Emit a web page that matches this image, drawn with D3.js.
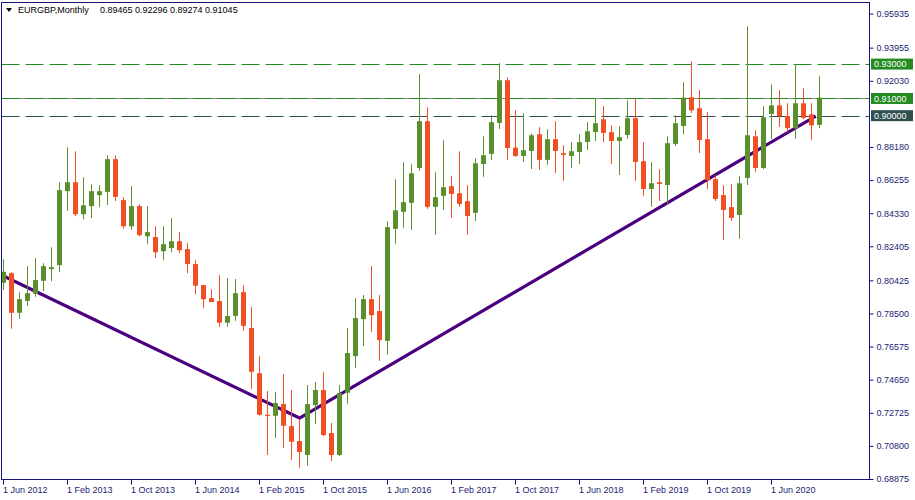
<!DOCTYPE html>
<html>
<head>
<meta charset="utf-8">
<script src="https://cdn.jsdelivr.net/npm/d3@7"></script>
<style>
  html, body { margin: 0; padding: 0; background: #fff; }
  svg { display: block; font-family: "Liberation Sans", Arial, sans-serif; }
</style>
</head>
<body>
<svg id="chart" width="915" height="500"></svg>
<script>
// ---- Data (EURGBP, Monthly) ----
const symbolTitle = "EURGBP,Monthly";
const lastQuote = ["0.89465", "0.92296", "0.89274", "0.91045"];
const firstMonth = "2012-06";
const lastMonth = "2020-12";

const openVals = [0.8028,0.8084,0.7854,0.7923,0.7964,0.8040,0.8108,0.8131,0.8561,0.8613,
  0.8427,0.8474,0.8538,0.8557,0.8747,0.8509,0.8357,0.8474,0.8299,0.8294,
  0.8212,0.8230,0.8270,0.8224,0.8137,0.8015,0.7939,0.7922,0.7796,0.7836,
  0.7974,0.7765,0.7503,0.7261,0.7255,0.7323,0.7195,0.7108,0.7027,0.7317,
  0.7405,0.7155,0.7027,0.7389,0.7602,0.7817,0.7933,0.7864,0.7691,0.8342,
  0.8441,0.8493,0.8696,0.8968,0.8470,0.8534,0.8590,0.8549,0.8503,0.8435,
  0.8719,0.8778,0.8958,0.9206,0.8814,0.8766,0.8795,0.8892,0.8743,0.8863,
  0.8782,0.8766,0.8789,0.8847,0.8905,0.8979,0.8904,0.8853,0.8888,0.8985,
  0.8735,0.8574,0.8613,0.8597,0.8836,0.8940,0.9107,0.9043,0.8863,0.8631,
  0.8538,0.8468,0.8423,0.8638,0.8880,0.8696,0.9010,0.9060,0.8998,0.8927,
  0.9072,0.9008,0.89465];
const highVals = [0.8166,0.8090,0.7974,0.8125,0.8172,0.8142,0.8235,0.8613,0.8816,0.8793,
  0.8642,0.8601,0.8596,0.8770,0.8770,0.8526,0.8590,0.8485,0.8474,0.8357,
  0.8357,0.8404,0.8323,0.8259,0.8160,0.8015,0.7991,0.8073,0.8055,0.8050,
  0.8015,0.7887,0.7602,0.7399,0.7393,0.7498,0.7405,0.7230,0.7434,0.7451,
  0.7509,0.7213,0.7434,0.7765,0.7939,0.7957,0.8125,0.7957,0.8386,0.8631,
  0.8729,0.8718,0.9241,0.9049,0.8671,0.8857,0.8648,0.8793,0.8596,0.8752,
  0.8880,0.9002,0.9305,0.9223,0.9031,0.9014,0.8897,0.8933,0.8921,0.8968,
  0.8828,0.8846,0.8892,0.8962,0.9101,0.9055,0.8944,0.8938,0.9089,0.9101,
  0.8846,0.8729,0.8689,0.8880,0.9002,0.9194,0.9316,0.9148,0.9020,0.8655,
  0.8596,0.8601,0.8648,0.9519,0.8915,0.9055,0.9182,0.9148,0.9072,0.9299,
  0.9159,0.9072,0.92296];
const lowVals = [0.7986,0.7761,0.7819,0.7894,0.7947,0.7980,0.8038,0.8092,0.8446,0.8416,
  0.8398,0.8404,0.8468,0.8481,0.8504,0.8342,0.8336,0.8299,0.8253,0.8172,
  0.8160,0.8206,0.8201,0.8084,0.7962,0.7881,0.7916,0.7772,0.7772,0.7807,
  0.7749,0.7412,0.7255,0.7027,0.7127,0.7069,0.6998,0.6953,0.6965,0.7207,
  0.7137,0.6992,0.7021,0.7325,0.7534,0.7660,0.7742,0.7575,0.7610,0.8255,
  0.8348,0.8336,0.8679,0.8458,0.8307,0.8452,0.8406,0.8470,0.8307,0.8388,
  0.8644,0.8743,0.8923,0.8743,0.8760,0.8731,0.8690,0.8685,0.8714,0.8667,
  0.8621,0.8696,0.8719,0.8801,0.8853,0.8847,0.8719,0.8655,0.8865,0.8621,
  0.8534,0.8470,0.8504,0.8487,0.8824,0.8892,0.9016,0.8783,0.8574,0.8504,
  0.8278,0.8388,0.8284,0.8597,0.8673,0.8689,0.8865,0.8934,0.8904,0.8865,
  0.8979,0.8859,0.89274];
const closeVals = [0.8092,0.7854,0.7933,0.7968,0.8044,0.8125,0.8119,0.8567,0.8613,0.8427,
  0.8479,0.8561,0.8561,0.8747,0.8528,0.8357,0.8474,0.8305,0.8323,0.8206,
  0.8253,0.8270,0.8218,0.8137,0.8011,0.7933,0.7916,0.7796,0.7835,0.7968,
  0.7778,0.7511,0.7261,0.7256,0.7329,0.7197,0.7104,0.7044,0.7323,0.7405,
  0.7143,0.7027,0.7387,0.7620,0.7823,0.7933,0.7840,0.7695,0.8352,0.8450,
  0.8497,0.8665,0.8968,0.8470,0.8526,0.8584,0.8545,0.8487,0.8417,0.8723,
  0.8770,0.8962,0.9206,0.8812,0.8766,0.8799,0.8886,0.8743,0.8863,0.8795,
  0.8772,0.8793,0.8846,0.8909,0.8956,0.8900,0.8853,0.8875,0.8985,0.8731,
  0.8574,0.8607,0.8603,0.8840,0.8956,0.9105,0.9031,0.8859,0.8626,0.8516,
  0.8452,0.8406,0.8607,0.8886,0.8696,0.8991,0.9060,0.8998,0.8927,0.9072,
  0.8987,0.8944,0.91045];

const yTickValues = [0.95935,0.93955,0.92030,0.88180,0.86255,0.84330,0.82405,
  0.80425,0.78500,0.76575,0.74650,0.72725,0.70800,0.68875];
const xTickLabels = ["1 Jun 2012","1 Feb 2013","1 Oct 2013","1 Jun 2014","1 Feb 2015",
  "1 Oct 2015","1 Jun 2016","1 Feb 2017","1 Oct 2017","1 Jun 2018","1 Feb 2019",
  "1 Oct 2019","1 Jun 2020"];

// horizontal levels
const levelPrices = [0.93, 0.91, 0.90];
const levelColors = ["#228b22", "#228b22", "#2f4f4f"];
const bidPrice = 0.91045;

// trend line anchors: [month, price]
const trendMonths = ["2012-06", "2015-07", "2020-11"];
const trendOffsets = [0, 0, 0.54];
const trendPrices = [0.8068, 0.7242, 0.8998];

// ---- Build ----
const parse = d3.timeParse("%Y-%m");
const fmtKey = d3.timeFormat("%Y-%m");
const months = d3.timeMonth.range(parse(firstMonth), d3.timeMonth.offset(parse(lastMonth), 1)).map(fmtKey);
const candles = months.map((m, i) => ({m, o: openVals[i], h: highVals[i], l: lowVals[i], c: closeVals[i]}));

const svg = d3.select("#chart");
const PL = 1.5, PT = 2.5, PR = 869.5, PB = 479.5;

const x = d3.scaleBand().domain(months).range([-0.5, -0.5 + 8 * months.length]).padding(0);
const cx = m => x(m) + 4;
const y = d3.scaleLinear().domain([0.68875, 0.95935]).range([479, 13.6]);

const frameColor = "#14147a";
const textColor = "#1c1c74";
const up = "#5a8f2e", down = "#f04e23";

svg.append("defs").append("clipPath").attr("id", "plotClip")
  .append("rect").attr("x", PL).attr("y", PT).attr("width", PR - PL).attr("height", PB - PT);

const plotG = svg.append("g").attr("clip-path", "url(#plotClip)");

// levels
plotG.append("line")
  .attr("x1", PL).attr("x2", PR).attr("y1", Math.round(y(bidPrice)) + 0.5).attr("y2", Math.round(y(bidPrice)) + 0.5)
  .attr("stroke", "#8c8c8c").attr("stroke-width", 1);
levelPrices.forEach((p, i) => {
  const yy = Math.round(y(p)) + 0.5;
  plotG.append("line").attr("x1", PL).attr("x2", PR).attr("y1", yy).attr("y2", yy)
    .attr("stroke", levelColors[i]).attr("stroke-width", 1).attr("stroke-dasharray", "18,6");
});

// trend line
const trendPts = trendMonths.map((m, i) => [cx(m) + trendOffsets[i] * 8, y(trendPrices[i])]);
plotG.append("path").attr("d", d3.line()(trendPts))
  .attr("fill", "none").attr("stroke", "#4b0082").attr("stroke-width", 3.2).attr("stroke-linejoin", "round");

// candles
const cg = plotG.append("g");
candles.forEach(d => {
  const col = d.c >= d.o ? up : down;
  const c = cx(d.m);
  cg.append("rect").attr("x", c - 0.5).attr("width", 1)
    .attr("y", y(d.h)).attr("height", Math.max(1, y(d.l) - y(d.h))).attr("fill", col);
  const top = y(Math.max(d.o, d.c)), bot = y(Math.min(d.o, d.c));
  cg.append("rect").attr("x", c - 2.5).attr("width", 5)
    .attr("y", top).attr("height", Math.max(1.2, bot - top)).attr("fill", col);
});

// frame
svg.append("rect").attr("x", PL).attr("y", PT).attr("width", PR - PL).attr("height", PB - PT)
  .attr("fill", "none").attr("stroke", frameColor).attr("stroke-width", 1);

// y axis
const yAxis = d3.axisRight(y).tickValues(yTickValues).tickSize(4).tickPadding(3)
  .tickFormat(d3.format(".5f"));
const yg = svg.append("g").attr("transform", `translate(${PR},0)`).call(yAxis);
yg.select(".domain").remove();
yg.selectAll(".tick line").attr("stroke", frameColor);
yg.selectAll(".tick text").attr("fill", textColor).style("font-size", "9px")
  .style("font-family", "'Liberation Sans', Arial, sans-serif");

// x axis
const xTickMonths = months.filter((m, i) => i % 8 === 0);
const xAxis = d3.axisBottom(x).tickValues(xTickMonths).tickSize(5).tickPadding(2)
  .tickFormat((m, i) => xTickLabels[i]);
const xg = svg.append("g").attr("transform", `translate(0,${PB})`).call(xAxis);
xg.select(".domain").remove();
xg.selectAll(".tick line").attr("stroke", frameColor);
xg.selectAll(".tick text").attr("fill", textColor).attr("text-anchor", "start").attr("x", -0.5)
  .style("font-size", "9px").style("font-family", "'Liberation Sans', Arial, sans-serif");

// level labels on axis
levelPrices.forEach((p, i) => {
  const yy = y(p);
  svg.append("rect").attr("x", 871).attr("y", yy - 5.5).attr("width", 42).attr("height", 11)
    .attr("fill", levelColors[i]);
  svg.append("text").attr("x", 874).attr("y", yy).attr("dy", "0.35em")
    .attr("fill", "#ffffff").style("font-size", "9px").text(d3.format(".5f")(p));
});

// header
svg.append("path").attr("d", "M6,8 L12,8 L9,12 Z").attr("fill", "#000");
svg.append("text").attr("x", 18).attr("y", 13).attr("fill", "#000").style("font-size", "9px").text(symbolTitle);
svg.append("text").attr("x", 100).attr("y", 13).attr("fill", "#000").style("font-size", "9px").text(lastQuote.join(" "));
</script>
</body>
</html>
